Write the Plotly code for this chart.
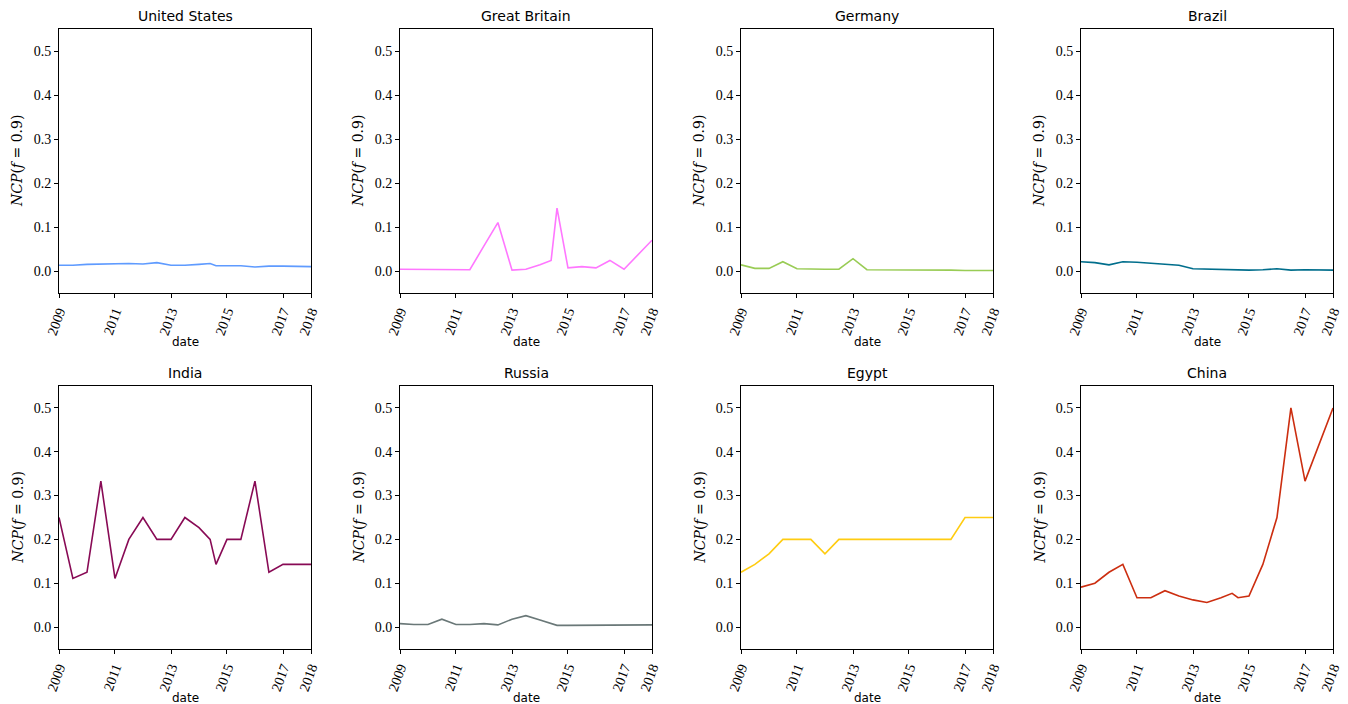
import plotly.graph_objects as go

countries = ["United States", "Great Britain", "Germany", "Brazil",
             "India", "Russia", "Egypt", "China"]
colors = ["#5f9bff", "#ff77ff", "#99cc55", "#006e8c",
          "#880a55", "#6a7878", "#ffcc11", "#cc2e10"]

dates = ["2009-01-01", "2009-07-01", "2010-01-01", "2010-07-01", "2011-01-01",
         "2011-07-01", "2012-01-01", "2012-07-01", "2013-01-01", "2013-07-01",
         "2014-01-01", "2014-05-26", "2014-08-11", "2015-01-01", "2015-07-01",
         "2016-01-01", "2016-07-01", "2017-01-01", "2018-01-01"]

us = [0.013, 0.013, 0.015, 0.016, 0.016, 0.017, 0.016, 0.019, 0.013, 0.013,
      0.015, 0.017, 0.012, 0.012, 0.012, 0.009, 0.011, 0.011, 0.010]
gb = [0.004, 0.004, 0.004, 0.003, 0.004, 0.003, 0.057, 0.110, 0.002, 0.004,
      0.014, 0.024, 0.143, 0.007, 0.010, 0.007, 0.024, 0.004, 0.070]
germany = [0.014, 0.006, 0.006, 0.021, 0.005, 0.004, 0.004, 0.004, 0.028, 0.003,
           0.003, 0.003, 0.003, 0.003, 0.003, 0.002, 0.002, 0.001, 0.001]
brazil = [0.021, 0.019, 0.014, 0.021, 0.020, 0.018, 0.016, 0.013, 0.005, 0.004,
          0.003, 0.003, 0.003, 0.002, 0.003, 0.005, 0.002, 0.003, 0.002]
india = [0.25, 0.111, 0.125, 0.333, 0.111, 0.2, 0.25, 0.2, 0.2, 0.25,
         0.227, 0.2, 0.143, 0.2, 0.2, 0.333, 0.125, 0.143, 0.143]
russia = [0.008, 0.006, 0.006, 0.018, 0.006, 0.006, 0.008, 0.005, 0.018, 0.026,
          0.016, 0.008, 0.004, 0.004, 0.004, 0.005, 0.005, 0.005, 0.005]
egypt = [0.125, 0.143, 0.167, 0.2, 0.2, 0.2, 0.167, 0.2, 0.2, 0.2,
         0.2, 0.2, 0.2, 0.2, 0.2, 0.2, 0.2, 0.25, 0.25]
china = [0.091, 0.1, 0.125, 0.143, 0.067, 0.067, 0.083, 0.071, 0.062, 0.056,
         0.067, 0.077, 0.067, 0.071, 0.143, 0.25, 0.5, 0.333, 0.5]

series = [us, gb, germany, brazil, india, russia, egypt, china]

tick_vals = ["2009-01-01", "2011-01-01", "2013-01-01", "2015-01-01",
             "2017-01-01", "2018-01-01"]
tick_text = ["2009", "2011", "2013", "2015", "2017", "2018"]
y_ticks = [0.0, 0.1, 0.2, 0.3, 0.4, 0.5]

W, H = 1348, 704
lefts = [59, 400, 741, 1081]
pw = 252
rows = [(29, 293), (386, 649)]
date_label_y = [342, 698]

serif = "Liberation Serif"
sans = "DejaVu Sans"

fig = go.Figure()
annotations = []
for i, (name, col, vals) in enumerate(zip(countries, colors, series)):
    r, c = divmod(i, 4)
    n = i + 1
    xa = "x" if n == 1 else f"x{n}"
    ya = "y" if n == 1 else f"y{n}"
    fig.add_trace(go.Scatter(x=dates, y=vals, mode="lines",
                             line=dict(color=col, width=1.6),
                             xaxis=xa, yaxis=ya, showlegend=False))
    x0, x1 = lefts[c] / W, (lefts[c] + pw) / W
    top, bot = rows[r]
    y0, y1 = 1 - bot / H, 1 - top / H
    xkey = "xaxis" if n == 1 else f"xaxis{n}"
    ykey = "yaxis" if n == 1 else f"yaxis{n}"
    fig.layout[xkey] = dict(
        domain=[x0, x1], anchor=ya, type="date", automargin=False,
        range=["2009-01-01", "2018-01-01"],
        tickmode="array", tickvals=tick_vals, ticktext=tick_text,
        tickangle=-70, ticks="outside", ticklen=4, tickcolor="black",
        showline=True, linecolor="black", linewidth=1, mirror=True,
        showgrid=False, zeroline=False,
        tickfont=dict(family=serif, size=14, color="black"))
    fig.layout[ykey] = dict(
        domain=[y0, y1], anchor=xa, range=[-0.05, 0.55], automargin=False,
        tickmode="array", tickvals=y_ticks, tickformat=".1f",
        ticks="outside", ticklen=4, tickcolor="black",
        showline=True, linecolor="black", linewidth=1, mirror=True,
        showgrid=False, zeroline=False,
        tickfont=dict(family=serif, size=14, color="black"))
    cx = (x0 + x1) / 2
    annotations.append(dict(text=name, x=cx, y=1 - (top - 3) / H,
                            xref="paper", yref="paper", xanchor="center",
                            yanchor="bottom", showarrow=False,
                            font=dict(family=sans, size=14, color="black")))
    annotations.append(dict(text="date", x=cx, y=1 - date_label_y[r] / H,
                            xref="paper", yref="paper", xanchor="center",
                            yanchor="middle", showarrow=False,
                            font=dict(family=sans, size=12, color="black")))
    annotations.append(dict(text="<i>NCP</i>(<i>f</i> = 0.9)",
                            x=(lefts[c] - 42) / W, y=(y0 + y1) / 2,
                            xref="paper", yref="paper", xanchor="center",
                            yanchor="middle", textangle=-90, showarrow=False,
                            font=dict(family="DejaVu Serif", size=14,
                                      color="black")))

fig.update_layout(width=W, height=H, margin=dict(l=0, r=0, t=0, b=0),
                  plot_bgcolor="white", paper_bgcolor="white",
                  annotations=annotations)
fig.write_html("out.html", config={"displayModeBar": False},
               post_script="document.body.style.margin='0px';"
                           "document.body.style.overflow='hidden';")
